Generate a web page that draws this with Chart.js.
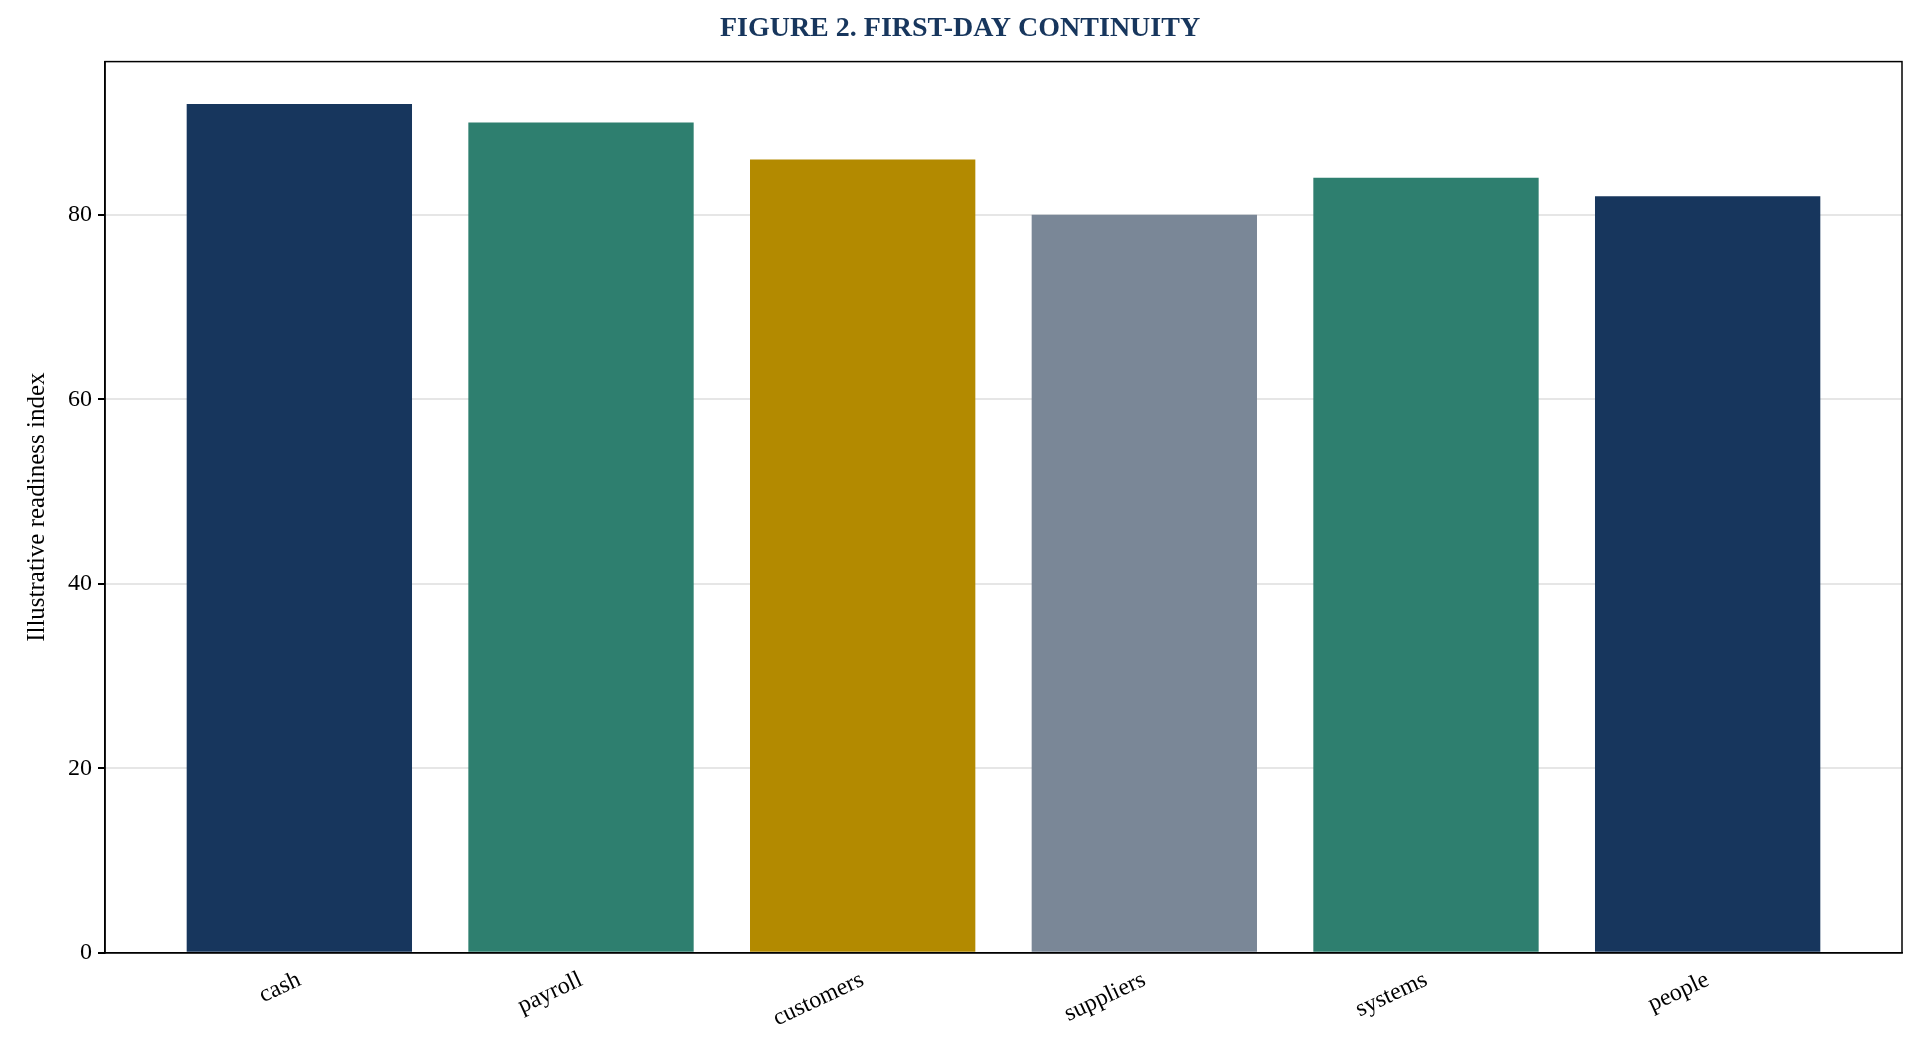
<!DOCTYPE html>
<html><head><meta charset="utf-8">
<script src="https://cdn.jsdelivr.net/npm/chart.js@4"></script>
<style>html,body{margin:0;padding:0;background:#fff}canvas{display:block}</style>
</head><body>
<canvas id="c" width="1924" height="1053"></canvas>
<script>
const categories = ["cash","payroll","customers","suppliers","systems","people"];
const values = [92, 90, 86, 80, 84, 82];
const colors = ["#17365d","#2e7f6f","#b38a00","#7a8797","#2e7f6f","#17365d"];
const yTicks = [0,20,40,60,80];

const frame = {
  id:'frame',
  afterDraw(ch){
    const a=ch.chartArea, c=ch.ctx;
    c.save(); c.strokeStyle='#000'; c.lineWidth=1.5;
    c.strokeRect(a.left,a.top,a.right-a.left,a.bottom-a.top);
    c.restore();
  }
};

new Chart(document.getElementById('c'), {
  type:'bar',
  data:{datasets:[{data: values.map((v,i)=>({x:i,y:v})), backgroundColor: colors, barPercentage:0.8, categoryPercentage:1}]},
  options:{
    responsive:false, devicePixelRatio:1, animation:false,
    layout:{padding:{left:18,right:22,top:0,bottom:14}},
    plugins:{legend:{display:false}, tooltip:{enabled:false},
      title:{display:true, text:'FIGURE 2. FIRST-DAY CONTINUITY', color:'#17365d',
        font:{family:'Liberation Serif', size:28, weight:'bold'}, padding:{top:12,bottom:16}}},
    scales:{
      x:{type:'linear', min:-0.69, max:5.69, offset:false,
        afterBuildTicks(s){ s.ticks = categories.map((_,i)=>({value:i})); },
        ticks:{callback:(v)=>categories[v], color:'#000', maxRotation:25, minRotation:25,
          font:{family:'Liberation Serif', size:24}, padding:6},
        grid:{display:false, drawOnChartArea:false, drawTicks:true, tickLength:7, color:'#000'},
        border:{color:'#000', width:1.5}},
      y:{min:0, max:96.6, z:1,
        afterBuildTicks(s){ s.ticks = yTicks.map(v=>({value:v})); },
        ticks:{color:'#000', font:{family:'Liberation Serif', size:24}, padding:6},
        grid:{color:'rgba(200,200,200,0.45)', lineWidth:2, tickLength:7, tickColor:'#000'},
        border:{color:'#000', width:1.5},
        title:{display:true, text:'Illustrative readiness index', color:'#000',
          font:{family:'Liberation Serif', size:25}, padding:{bottom:10}}}
    }
  },
  plugins:[frame]
});
</script>
</body></html>
